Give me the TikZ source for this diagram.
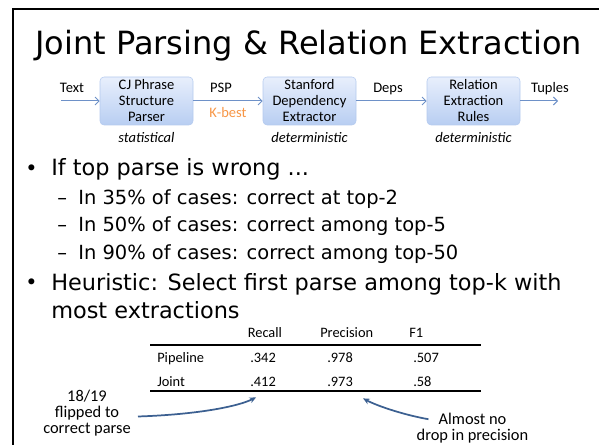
\documentclass[tikz,border=0pt]{standalone}
\usepackage{fontspec}
\setmainfont{DejaVu Sans}
\newfontfamily\calibri{Carlito}
\usetikzlibrary{arrows.meta}
\definecolor{boxtop}{RGB}{232,239,252}
\definecolor{boxbot}{RGB}{184,206,242}
\definecolor{boxedge}{RGB}{180,202,238}
\definecolor{flowblue}{RGB}{110,145,200}
\definecolor{kbest}{RGB}{247,150,70}
\definecolor{notearrow}{RGB}{60,96,145}
\begin{document}
\begin{tikzpicture}[x=0.75pt,y=-0.75pt,
 stage/.style={rounded corners=3pt,top color=boxtop,bottom color=boxbot,draw=boxedge,line width=0.4pt,minimum width=69.75pt,minimum height=36pt,inner sep=0pt,align=center,font=\calibri\fontsize{10.9}{12}\selectfont},
 flowlbl/.style={inner sep=0pt,anchor=base,font=\calibri\fontsize{10.9}{12}\selectfont},
 kind/.style={inner sep=0pt,anchor=base,font=\calibri\itshape\fontsize{10.9}{12}\selectfont},
 flow/.style={draw=flowblue,line width=0.75pt,-{Straight Barb[length=3pt,width=6pt]}},
 dot/.style={inner sep=0pt,anchor=base west,font=\fontsize{15.5}{18}\selectfont},
 bul/.style={inner sep=0pt,anchor=base west,font=\fontsize{16.8}{20}\selectfont},
 subbul/.style={inner sep=0pt,anchor=base west,font=\fontsize{14.6}{18}\selectfont},
 cell/.style={inner sep=0pt,anchor=base west,font=\calibri\fontsize{10.8}{12}\selectfont},
 notetxt/.style={inner sep=0pt,align=center,font=\calibri\fontsize{12.3}{12}\selectfont},
 note/.style={draw=notearrow,line width=1.3pt,-{Stealth[length=5pt,width=4.5pt]}}]
 \useasboundingbox (0,0) rectangle (599,445);
 \draw[line width=1.6pt] (13,445) -- (13,9) -- (599,9);
 \node[inner sep=0pt,anchor=base west,font=\fontsize{24}{28}\selectfont] (ttl) at (35,55) {Joint Parsing \& Relation Extraction};

 \node[stage] (cjp) at (146.5,101) {CJ Phrase\\Structure\\Parser};
 \node[stage] (sde) at (309.5,101) {Stanford\\Dependency\\Extractor};
 \node[stage] (rer) at (473.5,101) {Relation\\Extraction\\Rules};
 \coordinate (txtin) at (61,101);
 \coordinate (tupout) at (558,101);
 \draw[flow] (txtin) -- (cjp);
 \draw[flow] (cjp) -- (sde);
 \draw[flow] (sde) -- (rer);
 \draw[flow] (rer) -- (tupout);
 \node[flowlbl] (ltext) at (72,93) {Text};
 \node[flowlbl] (lpsp) at (221,93) {PSP};
 \node[flowlbl,text=kbest] (lkb) at (228,118) {K-best};
 \node[flowlbl] (ldeps) at (388,93) {Deps};
 \node[flowlbl] (ltup) at (550,93) {Tuples};
 \node[kind] (k1) at (146.5,143) {statistical};
 \node[kind] (k2) at (309.5,143) {deterministic};
 \node[kind] (k3) at (473.5,143) {deterministic};

 \node[dot] (m1) at (25,175.5) {•};
 \node[bul] (b1) at (51,176) {If top parse is wrong ...};
 \node[subbul] (d1) at (57,205) {–};
 \node[subbul] (s1) at (78,205) {In 35\% of cases: correct at top-2};
 \node[subbul] (d2) at (57,232) {–};
 \node[subbul] (s2) at (78,232) {In 50\% of cases: correct among top-5};
 \node[subbul] (d3) at (57,259) {–};
 \node[subbul] (s3) at (78,259) {In 90\% of cases: correct among top-50};
 \node[dot] (m2) at (25,289.5) {•};
 \node[bul] (b2) at (51,290) {Heuristic: Select first parse among top-k with};
 \node[bul] (b3) at (51,318) {most extractions};

 \node[cell] (hrc) at (247.5,337) {Recall};
 \node[cell] (hpr) at (320,337) {Precision};
 \node[cell] (hf1) at (409,337) {F1};
 \draw[line width=0.8pt] (150,345) -- (481,345);
 \node[cell] (pl) at (157,362) {Pipeline};
 \node[cell] (p1) at (250,362) {.342};
 \node[cell] (p2) at (327,362) {.978};
 \node[cell] (p3) at (413,362) {.507};
 \node[cell] (jt) at (157,386) {Joint};
 \node[cell] (j1) at (250,386) {.412};
 \node[cell] (j2) at (327,386) {.973};
 \node[cell] (j3) at (413,386) {.58};
 \draw[line width=0.8pt] (150,391) -- (481,391);

 \node[notetxt] (ann1) at (87,413.5) {18/19\\flipped to\\correct parse};
 \node[notetxt] (ann2) at (472.5,428.5) {Almost no\\drop in precision};
 \draw[note] ([shift={(7,3)}]ann1.east) .. controls +(60,-2) and +(-18,9) .. ([shift={(-7,11)}]j1.south);
 \draw[note] ([shift={(12,6)}]ann2.north west) .. controls +(-23,-4) and +(15,8) .. ([shift={(10,12)}]j2.south east);
\end{tikzpicture}
\end{document}
